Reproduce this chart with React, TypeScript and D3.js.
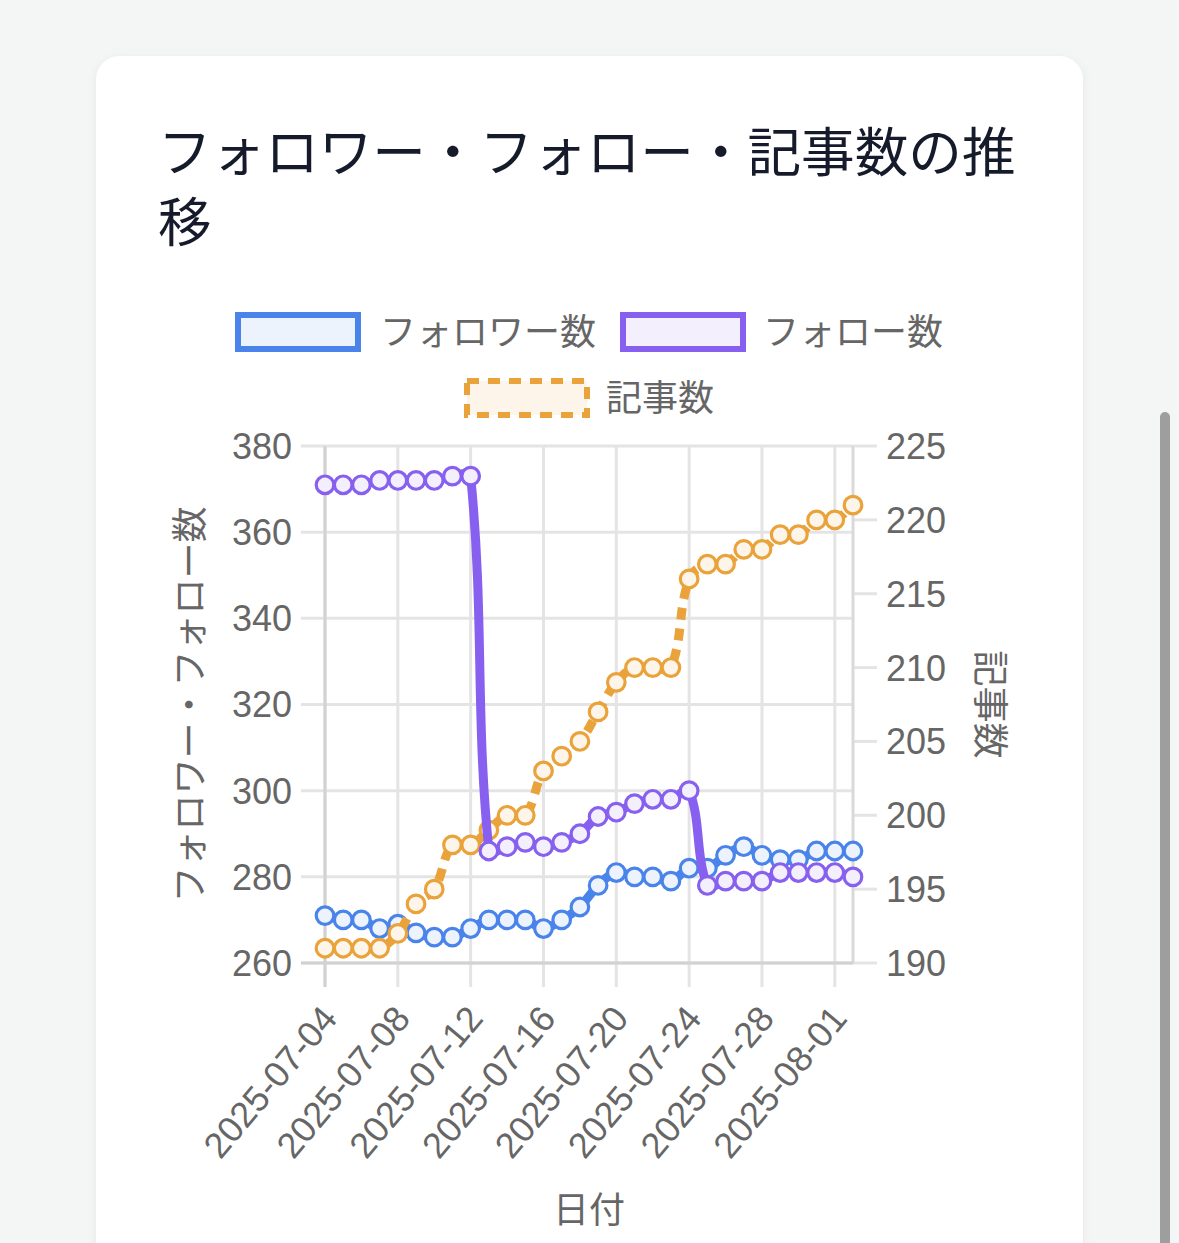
import * as d3 from 'd3'

// dates: one point per day from 2025-07-04
const START = new Date(Date.UTC(2025, 6, 4))
const DAYS = 30
const dates = d3.utcDay.range(START, d3.utcDay.offset(START, DAYS))

const followers = [271, 270, 270, 268, 269, 267, 266, 266, 268, 270, 270, 270, 268, 270, 273, 278, 281, 280, 280, 279, 282, 282, 285, 287, 285, 284, 284, 286, 286, 286]
const following = [371, 371, 371, 372, 372, 372, 372, 373, 373, 286, 287, 288, 287, 288, 290, 294, 295, 297, 298, 298, 300, 278, 279, 279, 279, 281, 281, 281, 281, 280]
const articles = [191, 191, 191, 191, 192, 194, 195, 198, 198, 199, 200, 200, 203, 204, 205, 207, 209, 210, 210, 210, 216, 217, 217, 218, 218, 219, 219, 220, 220, 221]

const leftTicks = [260, 280, 300, 320, 340, 360, 380]
const rightTicks = [190, 195, 200, 205, 210, 215, 220, 225]

const TITLE = ['フォロワー・フォロー・記事数の推', '移']
const LEFT_TITLE = 'フォロワー・フォロー数'
const RIGHT_TITLE = '記事数'
const X_TITLE = '日付'

const COLORS = {
  followers: '#4a84ea',
  following: '#8760ef',
  articles: '#eaa23a',
}
const FILLS = {
  followers: '#edf3fd',
  following: '#f3effd',
  articles: '#fdf5e9',
}

const W = 1179
const H = 1243
const plot = { left: 325, right: 853, top: 446, bottom: 963 }
const FONT = '"Liberation Sans", Arial, "Noto Sans CJK JP", sans-serif'
const TICK = '#666666'

// Chart.js style spline (tension) through screen points
function splinePath(pts: [number, number][], tension = 0.4) {
  const cap = (v: number, lo: number, hi: number) => Math.max(lo, Math.min(hi, v))
  const cps = pts.map((cur, i) => {
    const prev = pts[i - 1] ?? cur
    const next = pts[i + 1] ?? cur
    const d01 = Math.hypot(cur[0] - prev[0], cur[1] - prev[1])
    const d12 = Math.hypot(next[0] - cur[0], next[1] - cur[1])
    let s01 = d01 / (d01 + d12)
    let s12 = d12 / (d01 + d12)
    if (isNaN(s01)) s01 = 0
    if (isNaN(s12)) s12 = 0
    const fa = tension * s01
    const fb = tension * s12
    return {
      p: [cap(cur[0] - fa * (next[0] - prev[0]), plot.left, plot.right), cap(cur[1] - fa * (next[1] - prev[1]), plot.top, plot.bottom)],
      n: [cap(cur[0] + fb * (next[0] - prev[0]), plot.left, plot.right), cap(cur[1] + fb * (next[1] - prev[1]), plot.top, plot.bottom)],
    }
  })
  const path = d3.path()
  path.moveTo(pts[0][0], pts[0][1])
  for (let i = 1; i < pts.length; i++) {
    path.bezierCurveTo(cps[i - 1].n[0], cps[i - 1].n[1], cps[i].p[0], cps[i].p[1], pts[i][0], pts[i][1])
  }
  return path.toString()
}

function Series({
  values,
  y,
  x,
  color,
  fill,
  dash,
}: {
  values: number[]
  y: d3.ScaleLinear<number, number>
  x: d3.ScaleTime<number, number>
  color: string
  fill: string
  dash?: string
}) {
  const pts = values.map((v, i) => [x(dates[i]), y(v)] as [number, number])
  return (
    <g>
      <path d={splinePath(pts)} fill="none" stroke={color} strokeWidth={9} strokeDasharray={dash} />
      {pts.map(([px, py], i) => (
        <circle key={i} cx={px} cy={py} r={8.8} fill={fill} stroke={color} strokeWidth={3.2} />
      ))}
    </g>
  )
}

export default function App() {
  const x = d3.scaleUtc().domain([dates[0], dates[dates.length - 1]]).range([plot.left, plot.right])
  const yL = d3.scaleLinear().domain([260, 380]).range([plot.bottom, plot.top])
  const yR = d3.scaleLinear().domain([190, 225]).range([plot.bottom, plot.top])
  const xTicks = d3.utcDay.range(dates[0], d3.utcDay.offset(dates[dates.length - 1], 1), 4)
  const fmt = d3.utcFormat('%Y-%m-%d')
  const midY = (plot.top + plot.bottom) / 2

  const legend1 = [
    { label: 'フォロワー数', color: COLORS.followers, fill: FILLS.followers, bx: 238, tx: 380 },
    { label: 'フォロー数', color: COLORS.following, fill: FILLS.following, bx: 623, tx: 763 },
  ]

  return (
    <div style={{ position: 'fixed', left: 0, top: 0 }}>
      <svg width={W} height={H} viewBox={`0 0 ${W} ${H}`} style={{ display: 'block' }}>
        <defs>
          <filter id="shadow" x="-5%" y="-5%" width="110%" height="110%">
            <feDropShadow dx="0" dy="2" stdDeviation="4" floodColor="#000" floodOpacity="0.06" />
          </filter>
        </defs>
        <rect x={0} y={0} width={W} height={H} fill="#f4f6f6" />
        <rect x={96} y={56} width={987} height={1260} rx={24} fill="#ffffff" filter="url(#shadow)" />
        {/* scrollbar */}
        <rect x={1160} y={412} width={10} height={900} rx={5} fill="#9e9e9e" />

        {/* title */}
        {TITLE.map((t, i) => (
          <text key={i} x={158} y={172 + i * 70} fontSize={53.6} fill="#161b2b" fontFamily='"Noto Sans CJK JP", sans-serif'>
            {t}
          </text>
        ))}

        {/* legend */}
        {legend1.map((d) => (
          <g key={d.label}>
            <rect x={d.bx} y={315} width={120} height={34} fill={d.fill} stroke={d.color} strokeWidth={6} />
            <text x={d.tx} y={332} dy="0.36em" fontSize={36} fill={TICK} fontFamily={FONT}>
              {d.label}
            </text>
          </g>
        ))}
        <rect x={467} y={381} width={120} height={34} fill={FILLS.articles} stroke={COLORS.articles} strokeWidth={6} strokeDasharray="12,9" />
        <text x={606} y={398} dy="0.36em" fontSize={36} fill={TICK} fontFamily={FONT}>
          記事数
        </text>

        {/* grid */}
        <g>
          {leftTicks.map((t) => (
            <line key={t} x1={plot.left - 24} x2={plot.right} y1={yL(t)} y2={yL(t)} stroke="#e4e4e4" strokeWidth={3} />
          ))}
          {xTicks.map((t) => (
            <line key={+t} x1={x(t)} x2={x(t)} y1={plot.top} y2={plot.bottom + 24} stroke="#e4e4e4" strokeWidth={3} />
          ))}
          {rightTicks.map((t) => (
            <line key={t} x1={plot.right} x2={plot.right + 24} y1={yR(t)} y2={yR(t)} stroke="#e4e4e4" strokeWidth={3} />
          ))}
          <line x1={plot.left} x2={plot.left} y1={plot.top} y2={plot.bottom + 24} stroke="#d2d2d2" strokeWidth={3} />
          <line x1={plot.right} x2={plot.right} y1={plot.top} y2={plot.bottom} stroke="#d9d9d9" strokeWidth={3} />
          <line x1={plot.left - 24} x2={plot.right} y1={plot.bottom} y2={plot.bottom} stroke="#d2d2d2" strokeWidth={3} />
        </g>

        {/* left ticks */}
        {leftTicks.map((t) => (
          <text key={t} x={plot.left - 33} y={yL(t)} dy="0.36em" textAnchor="end" fontSize={36} fill={TICK} fontFamily={FONT}>
            {t}
          </text>
        ))}
        {/* right ticks */}
        {rightTicks.map((t) => (
          <text key={t} x={plot.right + 33} y={yR(t)} dy="0.36em" fontSize={36} fill={TICK} fontFamily={FONT}>
            {t}
          </text>
        ))}
        {/* x ticks */}
        {xTicks.map((t) => (
          <text
            key={+t}
            transform={`translate(${x(t) + 4},${plot.bottom + 48}) rotate(-50)`}
            dy="0.36em"
            textAnchor="end"
            fontSize={36}
            fill={TICK}
            fontFamily={FONT}
          >
            {fmt(t)}
          </text>
        ))}

        {/* axis titles */}
        <text transform={`translate(190,${midY}) rotate(-90)`} dy="0.36em" textAnchor="middle" fontSize={36} fill={TICK} fontFamily={FONT}>
          {LEFT_TITLE}
        </text>
        <text transform={`translate(990,${midY}) rotate(90)`} dy="0.36em" textAnchor="middle" fontSize={36} fill={TICK} fontFamily={FONT}>
          {RIGHT_TITLE}
        </text>
        <text x={(plot.left + plot.right) / 2} y={1210} dy="0.36em" textAnchor="middle" fontSize={36} fill={TICK} fontFamily={FONT}>
          {X_TITLE}
        </text>

        {/* series */}
        <Series values={followers} x={x} y={yL} color={COLORS.followers} fill={FILLS.followers} />
        <Series values={articles} x={x} y={yR} color={COLORS.articles} fill={FILLS.articles} dash="12,9" />
        <Series values={following} x={x} y={yL} color={COLORS.following} fill={FILLS.following} />
      </svg>
    </div>
  )
}
